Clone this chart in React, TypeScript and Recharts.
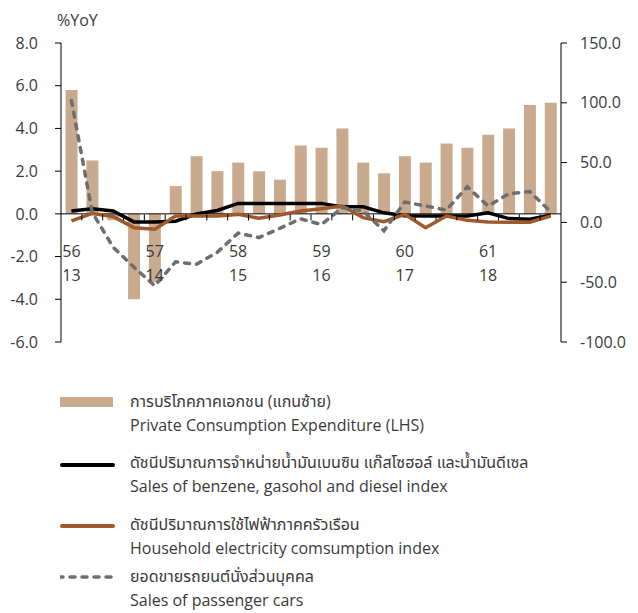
import React from 'react';
import { ComposedChart, Bar, Line, XAxis, YAxis, ReferenceLine, Legend } from 'recharts';

// ---- data ----
const quarters = [
  '56Q1', '56Q2', '56Q3', '56Q4',
  '57Q1', '57Q2', '57Q3', '57Q4',
  '58Q1', '58Q2', '58Q3', '58Q4',
  '59Q1', '59Q2', '59Q3', '59Q4',
  '60Q1', '60Q2', '60Q3', '60Q4',
  '61Q1', '61Q2', '61Q3', '61Q4',
];
const thaiYears = ['56', '57', '58', '59', '60', '61'];
const ceYears = ['13', '14', '15', '16', '17', '18'];

// Private Consumption Expenditure (LHS, %YoY)
const privateConsumption = [5.8, 2.5, -0.3, -4.0, -3.2, 1.3, 2.7, 2.0, 2.4, 2.0, 1.6, 3.2, 3.1, 4.0, 2.4, 1.9, 2.7, 2.4, 3.3, 3.1, 3.7, 4.0, 5.1, 5.2];
// Sales of benzene, gasohol and diesel index (RHS)
const fuelSales = [9.5, 11.5, 9.5, 0.4, 0.4, 1.0, 7.0, 10.0, 15.9, 15.9, 15.9, 15.9, 15.9, 13.0, 13.0, 8.0, 5.5, 5.3, 5.3, 5.3, 8.1, 3.2, 2.6, 5.9];
// Household electricity consumption index (RHS)
const electricity = [1.2, 7.5, 5.0, -4.4, -5.7, 5.3, 5.3, 5.3, 6.7, 3.4, 6.2, 9.5, 11.5, 13.7, 4.0, 0.6, 6.7, -4.4, 5.3, 1.7, 0.4, 0.2, 0.2, 5.3];
// Sales of passenger cars (RHS)
const carSales = [102, 8.4, -20.7, -37.4, -53, -33, -35, -25, -9, -12.7, -5, 3, -1.8, 12.3, 9.5, -7, 17, 13.7, 10.3, 29.8, 13.7, 24, 25.8, 9];

const leftTicks = [-6, -4, -2, 0, 2, 4, 6, 8];
const rightTicks = [-100, -50, 0, 50, 100, 150];

const legendTexts = [
  ['การบริโภคภาคเอกชน (แกนซ้าย)', 'Private Consumption Expenditure (LHS)'],
  ['ดัชนีปริมาณการจำหน่ายน้ำมันเบนซิน แก๊สโซฮอล์ และน้ำมันดีเซล', 'Sales of benzene, gasohol and diesel index'],
  ['ดัชนีปริมาณการใช้ไฟฟ้าภาคครัวเรือน', 'Household electricity comsumption index'],
  ['ยอดขายรถยนต์นั่งส่วนบุคคล', 'Sales of passenger cars'],
];

const data = quarters.map((q, i) => ({
  q,
  pce: privateConsumption[i],
  fuel: fuelSales[i],
  elec: electricity[i],
  cars: carSales[i],
}));

// ---- layout / style ----
const FONT = "'Open Sans', 'Noto Sans Thai', 'Noto Sans', sans-serif";
const TEXT = '#3a3a3a';
const BAR_COLOR = '#C9AA8F';
const BLACK = '#000000';
const BROWN = '#A0592B';
const GRAY = '#6D6E71';

const W = 622;
const H = 605;
const MARGIN = { top: 35, right: 0, bottom: 270, left: 0 };
const LEFT_W = 53;
const RIGHT_W = 69;
const PLOT_W = W - LEFT_W - RIGHT_W;
const PLOT_H = H - MARGIN.top - MARGIN.bottom;
const LEFT_MIN = -6;
const LEFT_MAX = 8;
const ZERO_Y = MARGIN.top + (PLOT_H * LEFT_MAX) / (LEFT_MAX - LEFT_MIN);

const XTick = (props: any) => {
  const { x, payload } = props;
  const idx: number = props.index ?? payload?.index ?? quarters.indexOf(payload?.value);
  const bw = PLOT_W / quarters.length;
  const yi = Math.floor(idx / 4);
  return (
    <g>
      {idx > 0 && (
        <line x1={x - bw / 2} x2={x - bw / 2} y1={ZERO_Y} y2={ZERO_Y + 6} stroke="#000" strokeWidth={1} />
      )}
      {idx % 4 === 0 && (
        <g>
          <text x={x} y={ZERO_Y + 37} dy="0.35em" textAnchor="middle" fontSize={16} fill={TEXT} fontFamily={FONT}>
            {thaiYears[yi]}
          </text>
          <text x={x} y={ZERO_Y + 61} dy="0.35em" textAnchor="middle" fontSize={16} fill={TEXT} fontFamily={FONT}>
            {ceYears[yi]}
          </text>
        </g>
      )}
    </g>
  );
};

const renderXTick = (props: any) => <XTick {...props} />;

const Marker = ({ kind }: { kind: number }) => (
  <svg width={56} height={24} style={{ display: 'block' }}>
    {kind === 0 && <rect x={0} y={7} width={53} height={10} fill={BAR_COLOR} />}
    {kind === 1 && <line x1={2} x2={53} y1={14} y2={14} stroke={BLACK} strokeWidth={4} strokeLinecap="round" />}
    {kind === 2 && <line x1={2} x2={53} y1={13} y2={13} stroke={BROWN} strokeWidth={4} strokeLinecap="round" />}
    {kind === 3 && (
      <line x1={-2} x2={56} y1={12} y2={12} stroke={GRAY} strokeWidth={3.5} strokeDasharray="5 7" strokeLinecap="round" />
    )}
  </svg>
);

const gaps = [14, 15, 5, 0];

const LegendContent = () => (
  <div style={{ fontFamily: FONT, color: TEXT, fontSize: 16 }}>
    {legendTexts.map((t, i) => (
      <div key={i} style={{ display: 'flex', alignItems: 'flex-start', marginBottom: gaps[i] }}>
        <div style={{ width: 70, flex: '0 0 70px' }}>
          <Marker kind={i} />
        </div>
        <div style={{ lineHeight: '23.5px', whiteSpace: 'nowrap' }}>
          <div>{t[0]}</div>
          <div>{t[1]}</div>
        </div>
      </div>
    ))}
  </div>
);

const yoyLabel = (p: any) => {
  const vb = p && p.viewBox ? p.viewBox : {};
  const x = (vb.x ?? 0) + (vb.width ?? LEFT_W) - 4;
  const y = (vb.y ?? MARGIN.top) - 23;
  return (
    <text x={x} y={y} dy="0.35em" textAnchor="start" fontSize={16} fill={TEXT} fontFamily={FONT}>
      %YoY
    </text>
  );
};

export default function App() {
  return (
    <div style={{ width: W, height: H, fontFamily: FONT }}>
      <ComposedChart width={W} height={H} data={data} margin={MARGIN} barCategoryGap="22%">
        <XAxis
          dataKey="q"
          height={1}
          interval={0}
          tickSize={0}
          tickMargin={0}
          axisLine={false}
          tickLine={false}
          tick={renderXTick}
        />
        <YAxis
          yAxisId="left"
          orientation="left"
          width={LEFT_W}
          domain={[LEFT_MIN, LEFT_MAX]}
          ticks={leftTicks}
          interval={0}
          tickFormatter={(v: number) => v.toFixed(1)}
          tick={{ fontSize: 16, fill: TEXT, fontFamily: FONT }}
          axisLine={{ stroke: '#000' }}
          tickLine={{ stroke: '#000' }}
          tickSize={6}
          tickMargin={17}
          label={yoyLabel}
        />
        <YAxis
          yAxisId="right"
          orientation="right"
          width={RIGHT_W}
          domain={[-100, 150]}
          ticks={rightTicks}
          interval={0}
          tickFormatter={(v: number) => v.toFixed(1)}
          tick={{ fontSize: 16, fill: TEXT, fontFamily: FONT, textAnchor: 'start' }}
          axisLine={{ stroke: '#000' }}
          tickLine={{ stroke: '#000' }}
          tickSize={6}
          tickMargin={13}
        />
        <Bar yAxisId="left" dataKey="pce" fill={BAR_COLOR} isAnimationActive={false} />
        <ReferenceLine yAxisId="left" y={0} stroke="#000" strokeWidth={1} />
        <Line yAxisId="right" dataKey="fuel" type="linear" stroke={BLACK} strokeWidth={3.5} dot={false} isAnimationActive={false} />
        <Line yAxisId="right" dataKey="elec" type="linear" stroke={BROWN} strokeWidth={3.5} dot={false} isAnimationActive={false} />
        <Line
          yAxisId="right"
          dataKey="cars"
          type="linear"
          stroke={GRAY}
          strokeWidth={3.5}
          strokeDasharray="5 7"
          strokeLinecap="round"
          dot={false}
          isAnimationActive={false}
        />
        <Legend
          layout="vertical"
          align="center"
          verticalAlign="middle"
          wrapperStyle={{ position: 'absolute', top: 382, left: 52, bottom: 'auto', width: 570 }}
          content={() => <LegendContent />}
        />
      </ComposedChart>
    </div>
  );
}
